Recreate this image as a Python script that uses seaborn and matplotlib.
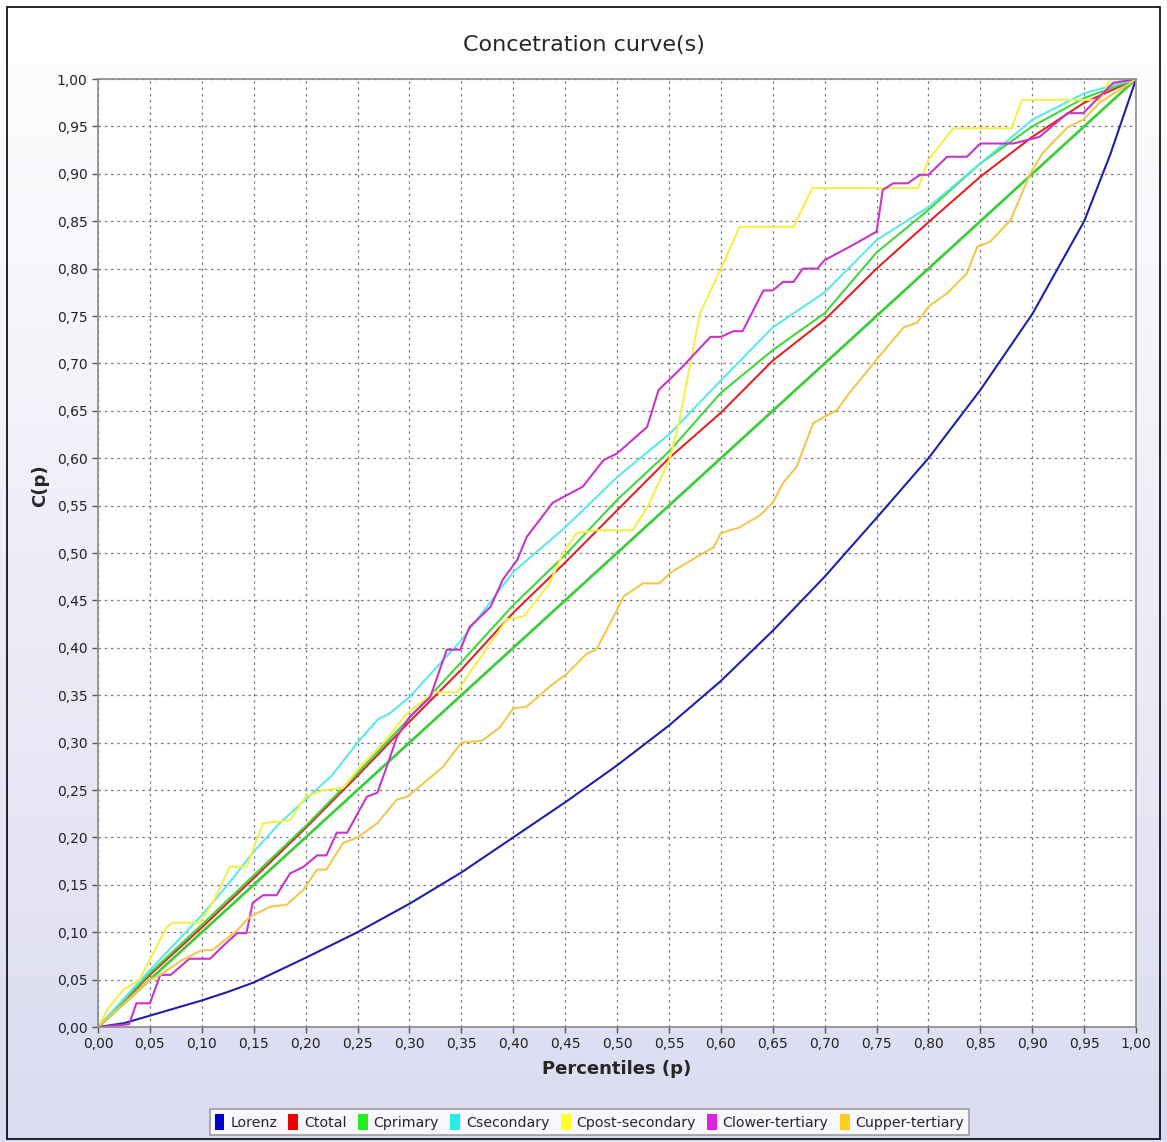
import numpy as np
import pandas as pd
import seaborn as sns
import matplotlib.pyplot as plt
from matplotlib.patches import Patch, Rectangle
from matplotlib.ticker import FuncFormatter

# values
lorenz_p = [0, 0.025, 0.05, 0.075, 0.10, 0.125, 0.15, 0.175, 0.20, 0.25, 0.30, 0.35,
            0.40, 0.45, 0.50, 0.55, 0.60, 0.65, 0.70, 0.75, 0.80, 0.85, 0.90,
            0.95, 0.975, 1.0]
lorenz_c = [0, 0.004, 0.012, 0.020, 0.028, 0.037, 0.047, 0.060, 0.073, 0.100, 0.130, 0.163,
            0.200, 0.237, 0.276, 0.318, 0.365, 0.418, 0.475, 0.537, 0.600, 0.672, 0.752,
            0.850, 0.920, 1.0]

ctotal_p = [0, 0.05, 0.10, 0.15, 0.20, 0.25, 0.30, 0.35, 0.40, 0.45, 0.50,
            0.55, 0.60, 0.65, 0.70, 0.75, 0.80, 0.85, 0.90, 0.95, 1.0]
ctotal_c = [0, 0.055, 0.105, 0.157, 0.210, 0.265, 0.322, 0.377, 0.437, 0.490, 0.545,
            0.600, 0.648, 0.703, 0.746, 0.800, 0.849, 0.897, 0.939, 0.975, 1.0]

cprimary_p = [0, 0.05, 0.10, 0.15, 0.20, 0.25, 0.30, 0.35, 0.40, 0.45, 0.50,
              0.55, 0.60, 0.65, 0.70, 0.75, 0.80, 0.85, 0.90, 0.95, 1.0]
cprimary_c = [0, 0.057, 0.108, 0.160, 0.212, 0.268, 0.326, 0.385, 0.445, 0.498, 0.556,
              0.607, 0.669, 0.714, 0.753, 0.817, 0.862, 0.911, 0.950, 0.980, 1.0]

csecondary_p = [0, 0.05, 0.10, 0.125, 0.15, 0.175, 0.20, 0.225, 0.25, 0.27, 0.28, 0.30,
                0.35, 0.40, 0.45, 0.50, 0.55, 0.60, 0.65, 0.70, 0.75, 0.80, 0.85,
                0.90, 0.95, 1.0]
csecondary_c = [0, 0.060, 0.118, 0.150, 0.185, 0.215, 0.240, 0.265, 0.300, 0.325, 0.330, 0.348,
                0.408, 0.480, 0.527, 0.580, 0.625, 0.682, 0.738, 0.775, 0.830, 0.865, 0.911,
                0.957, 0.985, 1.0]

cpost_p = [0, 0.01, 0.024, 0.04, 0.066, 0.072, 0.098, 0.11, 0.127, 0.143, 0.159, 0.185,
           0.20, 0.217, 0.236, 0.252, 0.275, 0.297, 0.323, 0.346, 0.355, 0.394, 0.41,
           0.435, 0.448, 0.461, 0.48, 0.515, 0.53, 0.551, 0.56, 0.58, 0.60, 0.618,
           0.67, 0.688, 0.79, 0.80, 0.824, 0.88, 0.89, 0.965, 0.975, 1.0]
cpost_c = [0, 0.020, 0.039, 0.050, 0.105, 0.110, 0.110, 0.130, 0.169, 0.169, 0.215, 0.218,
           0.243, 0.250, 0.252, 0.274, 0.300, 0.330, 0.353, 0.353, 0.369, 0.430, 0.433,
           0.468, 0.500, 0.521, 0.524, 0.524, 0.550, 0.600, 0.640, 0.753, 0.800, 0.844,
           0.844, 0.885, 0.885, 0.915, 0.948, 0.948, 0.978, 0.978, 1.0, 1.0]

clower_p = [0, 0.03, 0.037, 0.05, 0.06, 0.07, 0.088, 0.108, 0.12, 0.134, 0.143, 0.149,
            0.159, 0.172, 0.185, 0.198, 0.211, 0.22, 0.23, 0.24, 0.259, 0.269, 0.278,
            0.288, 0.30, 0.32, 0.336, 0.349, 0.358, 0.378, 0.39, 0.404, 0.413, 0.438,
            0.455, 0.467, 0.487, 0.50, 0.529, 0.54, 0.56, 0.59, 0.60, 0.612, 0.621,
            0.641, 0.65, 0.66, 0.67, 0.679, 0.693, 0.70, 0.724, 0.75, 0.756, 0.766,
            0.78, 0.792, 0.80, 0.818, 0.837, 0.85, 0.882, 0.907, 0.934, 0.949, 0.978, 1.0]
clower_c = [0, 0.003, 0.025, 0.025, 0.055, 0.055, 0.072, 0.072, 0.085, 0.099, 0.099, 0.131,
            0.139, 0.139, 0.162, 0.169, 0.181, 0.181, 0.205, 0.205, 0.243, 0.247, 0.274,
            0.306, 0.327, 0.348, 0.398, 0.398, 0.422, 0.443, 0.472, 0.493, 0.517, 0.553,
            0.563, 0.570, 0.598, 0.605, 0.633, 0.672, 0.693, 0.728, 0.728, 0.734, 0.734,
            0.777, 0.777, 0.786, 0.786, 0.800, 0.800, 0.809, 0.823, 0.839, 0.883, 0.890,
            0.890, 0.899, 0.899, 0.918, 0.918, 0.932, 0.932, 0.939, 0.964, 0.964, 0.996, 1.0]

cupper_p = [0, 0.02, 0.04, 0.05, 0.06, 0.08, 0.10, 0.11, 0.134, 0.146, 0.166, 0.182,
            0.198, 0.211, 0.22, 0.236, 0.25, 0.269, 0.288, 0.298, 0.332, 0.35, 0.37,
            0.387, 0.40, 0.413, 0.435, 0.452, 0.471, 0.48, 0.50, 0.506, 0.525, 0.541,
            0.551, 0.577, 0.593, 0.60, 0.618, 0.638, 0.65, 0.66, 0.673, 0.689, 0.712,
            0.724, 0.75, 0.776, 0.789, 0.80, 0.818, 0.837, 0.847, 0.859, 0.879, 0.898,
            0.91, 0.934, 0.949, 0.965, 1.0]
cupper_c = [0, 0.020, 0.040, 0.050, 0.055, 0.070, 0.081, 0.081, 0.102, 0.116, 0.127, 0.129,
            0.145, 0.166, 0.166, 0.194, 0.200, 0.215, 0.240, 0.243, 0.274, 0.300, 0.302,
            0.316, 0.336, 0.338, 0.359, 0.373, 0.394, 0.398, 0.440, 0.454, 0.468, 0.468,
            0.479, 0.496, 0.506, 0.521, 0.527, 0.540, 0.553, 0.574, 0.591, 0.637, 0.651,
            0.669, 0.704, 0.738, 0.743, 0.760, 0.774, 0.795, 0.823, 0.828, 0.851, 0.900,
            0.922, 0.949, 0.957, 0.975, 1.0]

equality_p = [0, 1.0]
equality_c = [0, 1.0]

series = {
    "Lorenz": (lorenz_p, lorenz_c),
    "Ctotal": (ctotal_p, ctotal_c),
    "Cprimary": (cprimary_p, cprimary_c),
    "Csecondary": (csecondary_p, csecondary_c),
    "Cpost-secondary": (cpost_p, cpost_c),
    "Clower-tertiary": (clower_p, clower_c),
    "Cupper-tertiary": (cupper_p, cupper_c),
}
colors = {
    "Lorenz": "#1f1fa8",
    "Ctotal": "#e02424",
    "Cprimary": "#3ed83e",
    "Csecondary": "#5de8e8",
    "Cpost-secondary": "#f4f04a",
    "Clower-tertiary": "#c834c8",
    "Cupper-tertiary": "#f0c850",
}
legend_colors = {
    "Lorenz": "#0000cc",
    "Ctotal": "#ee0000",
    "Cprimary": "#22ee22",
    "Csecondary": "#22eeee",
    "Cpost-secondary": "#ffff22",
    "Clower-tertiary": "#dd22dd",
    "Cupper-tertiary": "#ffcc22",
}

rows = []
for name, (ps, cs) in series.items():
    for p, c in zip(ps, cs):
        rows.append({"p": p, "c": c, "curve": name})
df = pd.DataFrame(rows)
eq_df = pd.DataFrame({"p": equality_p, "c": equality_c})

sns.set_style("white")
plt.rcParams['font.family'] = ['DejaVu Sans']

fig = plt.figure(figsize=(11.67, 11.42), dpi=100)

# gradient background + outer border
bg = fig.add_axes([0, 0, 1, 1], zorder=-10)
grad = np.linspace(0, 1, 256).reshape(-1, 1)
bg.imshow(grad, aspect='auto', extent=[0, 1, 0, 1], origin='upper',
          cmap=plt.matplotlib.colors.LinearSegmentedColormap.from_list(
              'bgc', ['#ffffff', '#dcdcf2']))
bg.add_patch(Rectangle((0.006, 0.003), 0.988, 0.991, fill=False,
                       edgecolor='black', lw=1.2, transform=bg.transAxes))
bg.set_axis_off()

ax = fig.add_axes([0.084, 0.1007, 0.8895, 0.8301])
ax.set_facecolor('white')

sns.lineplot(data=eq_df, x="p", y="c", color="#3ccc3c", lw=2.0, ax=ax,
             estimator=None, sort=False)
sns.lineplot(data=df, x="p", y="c", hue="curve", palette=colors, lw=1.5,
             estimator=None, sort=False, legend=False, ax=ax)

ax.set_xlim(0, 1)
ax.set_ylim(0, 1)
ticks = np.round(np.arange(0, 1.0001, 0.05), 2)
ax.set_xticks(ticks)
ax.set_yticks(ticks)
fmt = FuncFormatter(lambda v, pos: f"{v:.2f}".replace('.', ','))
ax.xaxis.set_major_formatter(fmt)
ax.yaxis.set_major_formatter(fmt)
ax.tick_params(axis='both', direction='out', length=4, width=1, color='#555555',
               labelsize=10, labelcolor='#222222')
ax.tick_params(axis='both', bottom=True, left=True)
ax.grid(True, color='#7a7a7a', ls=(0, (2, 3)), lw=0.9)
for s in ax.spines.values():
    s.set_color('#8a8a8a')
    s.set_linewidth(1.2)

ax.set_xlabel("Percentiles (p)", fontsize=13, fontweight='bold', labelpad=6)
ax.set_ylabel("")
fig.text(0.034, 0.575, "C(p)", rotation=90, fontsize=13, fontweight='bold',
         ha='center', va='center')
fig.text(0.5, 0.9606, "Concetration curve(s)", fontsize=16, ha='center', va='center')

handles = [Patch(facecolor=legend_colors[n], edgecolor='none', label=n) for n in series]
leg = fig.legend(handles=handles, loc='center', bbox_to_anchor=(0.505, 0.0175),
                 ncol=7, fontsize=10.2, frameon=True, fancybox=False,
                 handlelength=0.7, handleheight=1.3, handletextpad=0.4,
                 columnspacing=0.8, borderpad=0.35)
leg.get_frame().set_edgecolor('#8a8a8a')
leg.get_frame().set_linewidth(1.2)

fig.savefig("out.png", dpi=100)
